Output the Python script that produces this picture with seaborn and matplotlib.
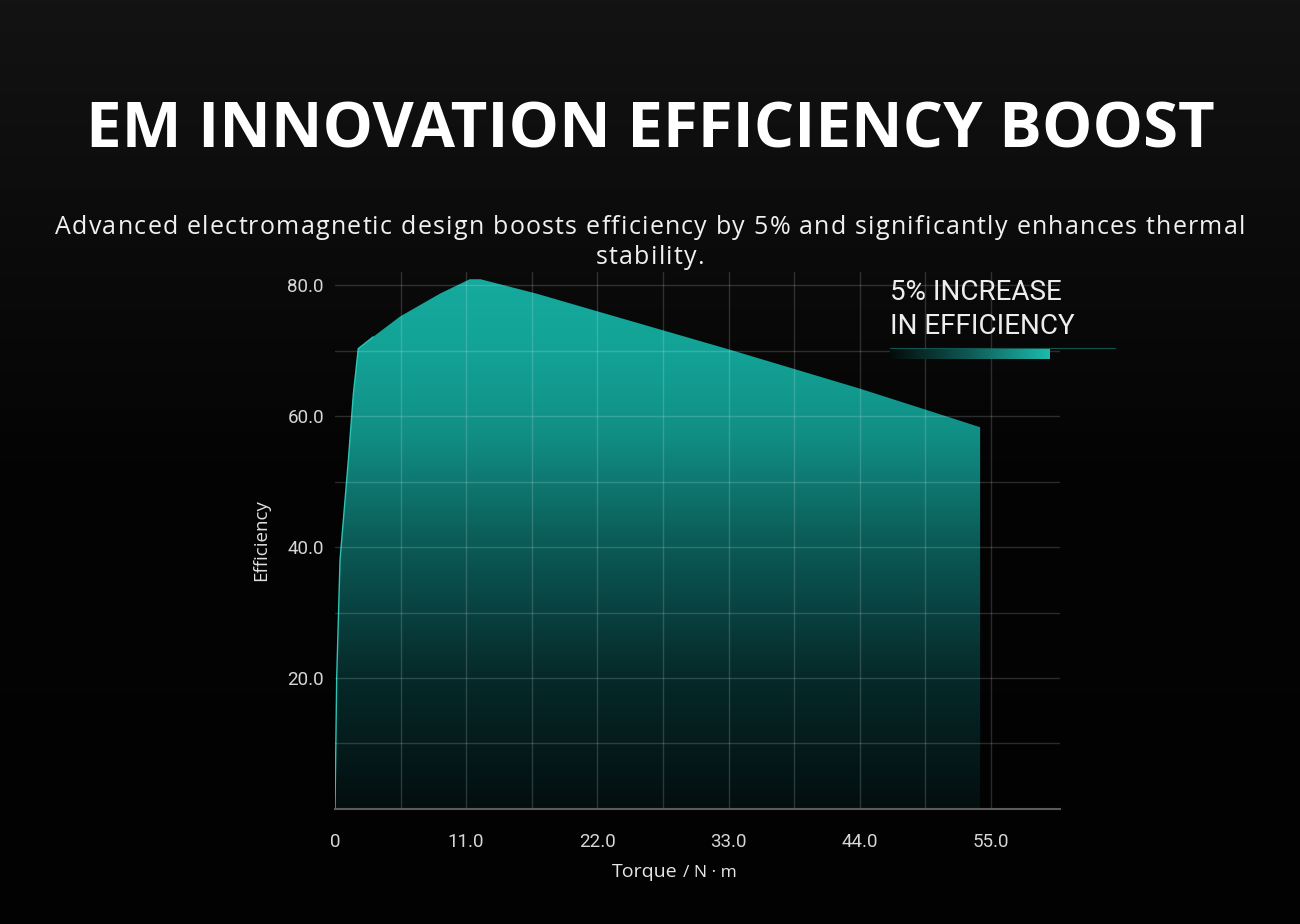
import numpy as np
import seaborn as sns
import matplotlib.pyplot as plt
from matplotlib.colors import LinearSegmentedColormap
from matplotlib.ticker import MultipleLocator, FixedLocator

# data
torque = [0, 0.14, 0.42, 1.12, 1.54, 1.95, 3.2, 5.45, 8.8, 11.3, 12.2, 16.9,
          22, 27.5, 33, 38.5, 44, 49.5, 54.1, 54.1]
efficiency = [0, 20, 38, 53.3, 63.4, 70.3, 72.1, 75.2, 78.7, 80.9, 80.9, 78.7,
              76.0, 73.1, 70.2, 67.2, 64.2, 61.0, 58.3, 0]
x_ticks = [0, 11, 22, 33, 44, 55]
x_labels = ["0", "11.0", "22.0", "33.0", "44.0", "55.0"]
y_ticks = [20, 40, 60, 80]
y_labels = ["20.0", "40.0", "60.0", "80.0"]

title = "EM INNOVATION EFFICIENCY BOOST"
subtitle = ["Advanced electromagnetic design boosts efficiency by 5% and significantly enhances thermal",
            "stability."]
callout = ["5% INCREASE", "IN EFFICIENCY"]

sns.set_theme(style="dark")
plt.rcParams["font.family"] = ["Roboto", "DejaVu Sans"]

W, H = 1300, 924
fig = plt.figure(figsize=(W / 100, H / 100), dpi=100)
fig.patch.set_facecolor("#070707")
renderer = fig.canvas.get_renderer()


def text_width(s, **kw):
    t = fig.text(0, 0, s, **kw)
    w = t.get_window_extent(renderer).width
    t.remove()
    return w


def tracked_text(cx, base_y, s, spacing, **kw):
    # text with extra letter spacing, centred at cx (pixels)
    total = text_width(s, **kw) + spacing * (len(s) - 1)
    x0 = cx - total / 2
    for i, ch in enumerate(s):
        if ch == " ":
            continue
        x = x0 + (text_width(s[:i], **kw) if i else 0) + spacing * i
        fig.text(x / W, 1 - base_y / H, ch, ha="left", va="baseline", **kw)


# background: slightly lighter at the top
bg = fig.add_axes([0, 0, 1, 1], zorder=-10)
bg_cmap = LinearSegmentedColormap.from_list("bg", ["#020202", "#040404", "#131313"])
bg.imshow(np.linspace(0, 1, 256).reshape(-1, 1), cmap=bg_cmap, aspect="auto",
          origin="lower", extent=[0, 1, 0, 1])
bg.set_axis_off()

ax = fig.add_axes([0.2577, 0.1245, 0.5577, 0.5811])
ax.set_facecolor("none")
ax.set_xlim(0, 60.8)
ax.set_ylim(0, 82)

# gradient fill clipped to the area under the curve
fill_cmap = LinearSegmentedColormap.from_list(
    "teal", [(0, "#030e0f"), (0.25, "#062a2a"), (0.5, "#0b5c58"), (0.7, "#118f85"),
             (0.85, "#13a296"), (1, "#15ab9e")])
poly = ax.fill(torque, efficiency, facecolor="none", edgecolor="none")[0]
grad = ax.imshow(np.linspace(0, 1, 256).reshape(-1, 1), cmap=fill_cmap, aspect="auto",
                 origin="lower", extent=[0, 60.8, 0, 82], zorder=1)
grad.set_clip_path(poly)
sns.lineplot(x=torque[:7], y=efficiency[:7], ax=ax, color="#2cc4b4", lw=1.0,
             sort=False, zorder=2)

# grid (drawn on minor locators so the 0 line and the right edge stay empty)
ax.set_xticks(x_ticks, x_labels)
ax.set_yticks(y_ticks, y_labels)
ax.xaxis.set_minor_locator(FixedLocator(np.arange(5.5, 56, 5.5)))
ax.yaxis.set_minor_locator(MultipleLocator(10))
ax.xaxis.remove_overlapping_locs = False
ax.yaxis.remove_overlapping_locs = False
ax.grid(False)
ax.grid(which="minor", color="white", alpha=0.16, lw=1)
ax.set_axisbelow(False)
for sp in ["left", "right", "top"]:
    ax.spines[sp].set_visible(False)
ax.spines["bottom"].set_color("#5a5a5a")
ax.spines["bottom"].set_linewidth(1.5)
ax.spines["bottom"].set_zorder(3)

ax.tick_params(axis="x", which="major", length=5, width=2.5, color="white",
               direction="out", pad=12, labelsize=13.5, labelcolor="#d6d6d6")
ax.tick_params(axis="y", which="major", length=0, pad=8, labelsize=13.5, labelcolor="#d6d6d6")
ax.tick_params(which="minor", length=0)

ax.set_ylabel("Efficiency", fontsize=13.5, color="#e0e0e0", labelpad=12, family="Open Sans")

# x-axis label in two sizes
fig.text(678 / W, 1 - 877 / H, "Torque", fontsize=14, color="#e6e6e6", ha="right",
         va="baseline", family="Open Sans")
fig.text(683 / W, 1 - 877 / H, "/ N · m", fontsize=12.5, color="#e6e6e6", ha="left",
         va="baseline", family="Open Sans")

# callout with gradient bar
for line, base in zip(callout, [300, 334]):
    fig.text(890 / W, 1 - base / H, line, fontsize=20, color="#ededed", ha="left", va="baseline")
bar = fig.add_axes([890 / W, 1 - 359 / H, 160 / W, 10 / H])
bar_cmap = LinearSegmentedColormap.from_list("bar", ["#050a0a", "#0f5a55", "#1cbcad"])
bar.imshow(np.linspace(0, 1, 256).reshape(1, -1), cmap=bar_cmap, aspect="auto")
bar.set_axis_off()
fig.add_artist(plt.Line2D([890 / W, 1115 / W], [1 - 348 / H, 1 - 348 / H],
                          color="#1a8a80", lw=0.8, alpha=0.6))

# title and subtitle
fig.text(0.5, 1 - 147 / H, title, fontsize=45.7, fontweight="bold", family="Open Sans",
         color="white", ha="center", va="baseline")
sub_kw = dict(fontsize=18, family="Open Sans", color="#f0f0f0")
spacing = (1190 - text_width(subtitle[0], **sub_kw)) / (len(subtitle[0]) - 1)
for line, base in zip(subtitle, [234, 264]):
    tracked_text(650, base, line, spacing, **sub_kw)

fig.savefig("out.png", dpi=100, facecolor=fig.get_facecolor())
